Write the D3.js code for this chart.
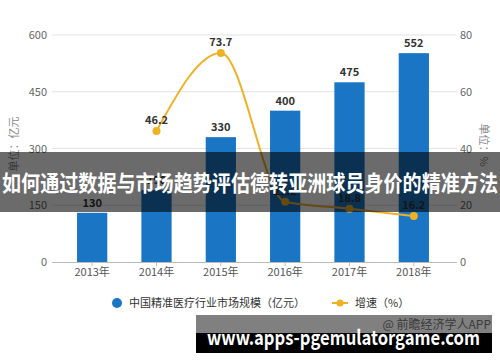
<!DOCTYPE html>
<html><head><meta charset="utf-8">
<script src="https://cdn.jsdelivr.net/npm/d3@7"></script>
<style>body{margin:0;background:#fff}svg{display:block}text{font-family:"Noto Sans CJK SC","Noto Sans",sans-serif}</style>
</head><body>
<svg id="c" width="500" height="362"></svg>
<script>
const years = ["2013年","2014年","2015年","2016年","2017年","2018年"];
const marketSize = [130,190,330,400,475,552];
const growth = [null,46.2,73.7,21.2,18.8,16.2];
const leftTicks = [0,150,300,450,600];
const rightTicks = [0,20,40,60,80];
const legendLabels = ["中国精准医疗行业市场规模（亿元）","增速（%）"];
const title = "如何通过数据与市场趋势评估德转亚洲球员身价的精准方法";
const barColor = "#1a75c4", lineColor = "#efb126";

const svg = d3.select("#c");
const x = d3.scaleBand().domain(years).range([60,446]).paddingInner(0.53).paddingOuter(0.265);
const yL = d3.scaleLinear().domain([0,600]).range([262,35]);
const yR = d3.scaleLinear().domain([0,80]).range([262,35]);

// grid
svg.append("g").selectAll("line").data(leftTicks.slice(1)).join("line")
  .attr("x1",52).attr("x2",457).attr("y1",d=>yL(d)).attr("y2",d=>yL(d))
  .attr("stroke","#e2e2e2").attr("stroke-width",1);
// left labels
svg.append("g").selectAll("text").data(leftTicks).join("text")
  .attr("x",47).attr("y",d=>yL(d)+4).attr("text-anchor","end")
  .attr("font-size",11).attr("fill","#666").text(d=>d);
svg.append("g").selectAll("text").data(rightTicks).join("text")
  .attr("x",460).attr("y",d=>yR(d)+4).attr("text-anchor","start")
  .attr("font-size",11).attr("fill","#666").text(d=>d);
// axis titles
svg.append("text").attr("transform","translate(18,144) rotate(-90)").attr("text-anchor","middle")
  .attr("font-size",11).attr("fill","#888").text("单位：亿元");
svg.append("text").attr("transform","translate(480,145) rotate(90)").attr("text-anchor","middle")
  .attr("font-size",11).attr("fill","#888").text("单位：%");

// bars
svg.append("g").selectAll("rect").data(marketSize).join("rect")
  .attr("x",(d,i)=>x(years[i])).attr("width",x.bandwidth())
  .attr("y",d=>yL(d)).attr("height",d=>yL(0)-yL(d)).attr("fill",barColor);
svg.append("g").selectAll("text").data(marketSize).join("text")
  .attr("x",(d,i)=>x(years[i])+x.bandwidth()/2).attr("y",d=>yL(d)-6)
  .attr("text-anchor","middle").attr("font-size",11).attr("font-weight","bold").attr("fill","#333").text(d=>d);

// x axis
svg.append("line").attr("x1",52).attr("x2",457).attr("y1",262.5).attr("y2",262.5).attr("stroke","#bbb");
svg.append("g").selectAll("line").data(years).join("line")
  .attr("x1",d=>x(d)+x.bandwidth()/2).attr("x2",d=>x(d)+x.bandwidth()/2)
  .attr("y1",262).attr("y2",266).attr("stroke","#bbb");
svg.append("g").selectAll("text").data(years).join("text")
  .attr("x",d=>x(d)+x.bandwidth()/2).attr("y",276).attr("text-anchor","middle")
  .attr("font-size",11).attr("fill","#555").text(d=>d);

// line
const pts = growth.map((g,i)=>({g,i})).filter(p=>p.g!==null);
const line = d3.line().x(p=>x(years[p.i])+x.bandwidth()/2).y(p=>yR(p.g)).curve(d3.curveMonotoneX);
svg.append("path").attr("d",line(pts)).attr("fill","none").attr("stroke",lineColor).attr("stroke-width",2);
svg.append("g").selectAll("circle").data(pts).join("circle")
  .attr("cx",p=>x(years[p.i])+x.bandwidth()/2).attr("cy",p=>yR(p.g)).attr("r",4).attr("fill",lineColor);
svg.append("g").selectAll("text").data(pts).join("text")
  .attr("x",p=>x(years[p.i])+x.bandwidth()/2).attr("y",p=>yR(p.g)-7)
  .attr("text-anchor","middle").attr("font-size",11).attr("font-weight","bold").attr("fill","#333").text(p=>p.g);

// legend
svg.append("circle").attr("cx",117).attr("cy",303).attr("r",5).attr("fill",barColor);
svg.append("text").attr("x",129).attr("y",307).attr("font-size",11).attr("fill","#333").text(legendLabels[0]);
svg.append("line").attr("x1",332).attr("x2",348).attr("y1",303).attr("y2",303).attr("stroke",lineColor).attr("stroke-width",2);
svg.append("circle").attr("cx",340).attr("cy",303).attr("r",3.5).attr("fill",lineColor);
svg.append("text").attr("x",355).attr("y",307).attr("font-size",11).attr("fill","#333").text(legendLabels[1]);

// title banner
svg.append("rect").attr("x",0).attr("y",152).attr("width",500).attr("height",60).attr("fill","rgba(0,0,0,0.58)");
svg.append("text").attr("x",2).attr("y",191).attr("font-size",22).attr("font-weight","bold").attr("fill","#fff")
  .attr("textLength",496).attr("lengthAdjust","spacingAndGlyphs").text(title);

// bottom box
svg.append("rect").attr("x",196).attr("y",315).attr("width",296).attr("height",18).attr("fill","#808080");
svg.append("rect").attr("x",196).attr("y",333).attr("width",296).attr("height",20).attr("fill","#000");
svg.append("text").attr("x",491).attr("y",329).attr("text-anchor","end").attr("font-size",12).attr("fill","#3a3a3a").text("@ 前瞻经济学人APP");
svg.append("text").attr("x",207).attr("y",345).attr("font-size",20).attr("font-weight","bold").attr("fill","#fff")
  .attr("font-family","'Open Sans',sans-serif")
  .attr("textLength",273).attr("lengthAdjust","spacingAndGlyphs").text("www.apps-pgemulatorgame.com");
</script>
</body></html>
